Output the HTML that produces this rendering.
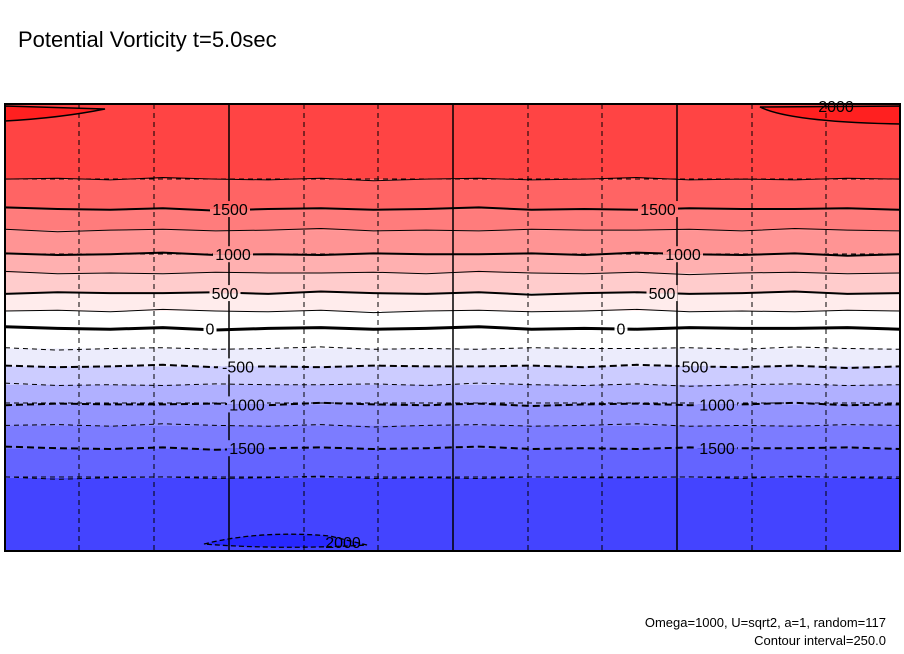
<!DOCTYPE html>
<html><head><meta charset="utf-8"><style>
body{margin:0;background:#fff;width:904px;height:654px;overflow:hidden;font-family:"Liberation Sans",sans-serif}
svg{position:absolute;left:0;top:0}
</style></head><body>
<svg id="chart" width="904" height="654">
<text x="18" y="47" font-size="22" fill="#000">Potential Vorticity t=5.0sec</text>
<g id="bands"></g>
<g id="grid"></g>
<g id="contours"></g>
<g id="labels"></g>
<rect x="5" y="104" width="895" height="447" fill="none" stroke="#000" stroke-width="2"/>
<text x="886" y="627" font-size="13" text-anchor="end">Omega=1000, U=sqrt2, a=1, random=117</text>
<text x="886" y="645" font-size="13" text-anchor="end">Contour interval=250.0</text>
</svg>
<script>
// contour levels and their mean vertical position (fraction of plot height from top)
const levels = [1750,1500,1250,1000,750,500,250,0,-250,-500,-750,-1000,-1250,-1500,-1750];
const levelPos = [0.168,0.235,0.282,0.336,0.378,0.423,0.463,0.502,0.547,0.587,0.628,0.672,0.719,0.770,0.836];
const bandColors = ["#ff4444","#ff6464","#ff7c7c","#ff9494","#ffb0b0","#ffcccc","#ffecec","#ffffff","#ffffff","#ececfc","#ccccff","#b0b0ff","#9494ff","#7c7cff","#6464ff","#4444ff"];
const labelLevels = [1500,1000,500,0,-500,-1000,-1500];
const labelText = ["1500","1000","500","0","-500","1000","1500"];
const labelText2 = ["1500","1000","500","0","500","1000","1500"];
const wiggle = [0,-1,1,-2,0,1,-1,2,0,-1,1,0,-2,1,0,1,-1,0];

const X0=5,X1=900,Y0=104,Y1=551,H=Y1-Y0,W=X1-X0;
const ns="http://www.w3.org/2000/svg";
const yOf=f=>Y0+f*H;
function mk(tag,attrs,parent){const e=document.createElementNS(ns,tag);for(const k in attrs)e.setAttribute(k,attrs[k]);parent.appendChild(e);return e;}
const bands=document.getElementById('bands'),grid=document.getElementById('grid'),cont=document.getElementById('contours'),labs=document.getElementById('labels');

for(let i=0;i<bandColors.length;i++){
  const top=i===0?Y0:yOf(levelPos[i-1]);
  const bot=i===levelPos.length?Y1:yOf(levelPos[i]);
  const r=mk('rect',{x:X0,y:top,width:W,height:bot-top,fill:bandColors[i]},bands);
  
  
}
const p1=mk('path',{d:`M5 106 L105 109 Q60 118 5 121 Z`,fill:"#ff2020",stroke:"#000","stroke-width":1.5},bands);

const p2=mk('path',{d:`M900 106 L760 107 Q790 122 900 124 Z`,fill:"#ff2020",stroke:"#000","stroke-width":1.5},bands);

const p3=mk('path',{d:`M204 544 Q260 530 330 536 L367 545 Q280 550 204 544 Z`,fill:"#2828ff",stroke:"#000","stroke-width":1.3,"stroke-dasharray":"5,3"},bands);


const solidX=[229,453,677],dashX=[79,154,304,378,528,602,752,826],dashY=[179,254,403,477];
solidX.forEach(x=>{const l=mk('line',{x1:x,x2:x,y1:Y0,y2:Y1,stroke:"#000","stroke-width":1.5},grid);});
dashX.forEach(x=>{const l=mk('line',{x1:x,x2:x,y1:Y0,y2:Y1,stroke:"#000","stroke-width":1,"stroke-dasharray":"5,4"},grid);});
dashY.forEach(y=>{const l=mk('line',{x1:X0,x2:X1,y1:y,y2:y,stroke:"#000","stroke-width":1,"stroke-dasharray":"5,4"},grid);});

levels.forEach((lv,i)=>{
  const y=yOf(levelPos[i]);let d='';
  for(let k=0;k<wiggle.length;k++){const x=X0+k*W/(wiggle.length-1);d+=(k?'L':'M')+x.toFixed(1)+' '+(y+wiggle[(k+i*3)%wiggle.length]*0.8).toFixed(1);}
  const major=lv%500===0;
  const a={d:d,fill:"none",stroke:"#000","stroke-width":lv===0?3:(major?2:1)};
  if(lv<0)a["stroke-dasharray"]=major?"7,4":"5,4";
  const p=mk('path',a,cont);
  
  
});

const lx1=[230,233,225,210,238,247,247],lx2=[658,683,662,621,695,717,717];
labelLevels.forEach((lv,j)=>{
  const idx=levels.indexOf(lv);
  const y=yOf(levelPos[idx]);
  [[lx1[j],labelText[j]],[lx2[j],labelText2[j]]].forEach(([x,t])=>{
    const w=t.length*9+4, bx=x-w/2;
    const bgT=mk('rect',{x:bx,y:y-8,width:w,height:8,fill:bandColors[idx]},labs);
    
    const bgB=mk('rect',{x:bx,y:y,width:w,height:8,fill:bandColors[idx+1]},labs);
    
    const tx=mk('text',{x:x,y:y+6,"font-size":16,"text-anchor":"middle",fill:"#000"},labs);
    tx.textContent=t;
    
    
  });
});
const t1=mk('text',{x:836,y:112,"font-size":16,"text-anchor":"middle"},labs);t1.textContent="2000";

const t2=mk('text',{x:343,y:548,"font-size":16,"text-anchor":"middle"},labs);t2.textContent="2000";

</script>
</body></html>
